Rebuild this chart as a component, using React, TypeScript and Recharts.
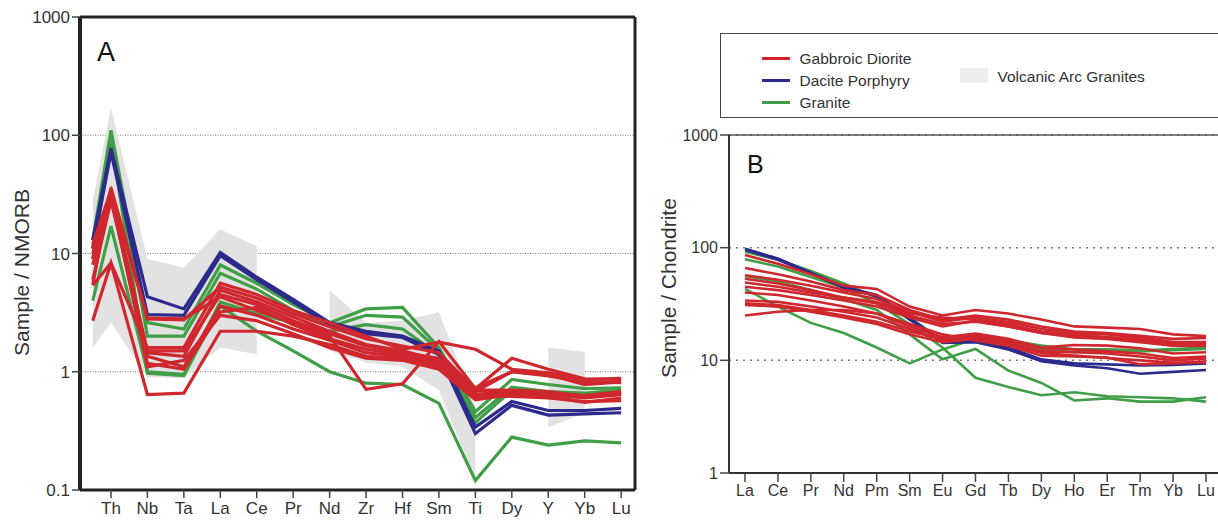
import React from "react";
import {
  Area,
  CartesianGrid,
  ComposedChart,
  Legend,
  Line,
  LineChart,
  ReferenceLine,
  XAxis,
  YAxis,
} from "recharts";

const FONT = "'Liberation Sans', Arial, Helvetica, sans-serif";
const INK = "#333333";
const RED = "#d0272e";
const BLUE = "#2c2a8c";
const GREEN = "#409e47";
const BAND = "#e2e2e2";

// ---- Panel A: Sample / NMORB ----
// first slot is the element cut off at the left edge of the source figure
const elementsA = ["", "Th", "Nb", "Ta", "La", "Ce", "Pr", "Nd", "Zr", "Hf", "Sm", "Ti", "Dy", "Y", "Yb", "Lu"];
const orderA = [0.5, 1, 2, 3, 4, 5, 6, 7, 8, 9, 10, 11, 12, 13, 14, 15];
const domainXA = [0.15, 15.38];
const ticksA = [0.1, 1, 10, 100, 1000];

// Volcanic Arc Granites field (null = no field at that element)
const volcArcLowA = [1.6, 2.6, 0.9, 0.88, 1.6, 1.4, null, 1.5, 1.2, 1.1, 0.7, 0.12, null, 0.34, 0.45, null];
const volcArcHighA = [28, 170, 9.0, 7.6, 16, 11.5, null, 4.9, 2.6, 2.7, 3.2, 0.5, null, 1.6, 1.47, null];

const graniteA = [
  [13, 110, 2.6, 2.3, 8.0, 5.6, 3.7, 2.6, 3.4, 3.5, 1.6, 0.46, 0.86, 0.78, 0.72, 0.73],
  [11, 100, 2.0, 2.0, 6.8, 5.0, 3.3, 2.4, 3.0, 2.9, 1.5, 0.41, 0.74, 0.68, 0.66, 0.7],
  [4.0, 17, 1.0, 0.95, 3.9, 3.1, 2.6, 2.2, 2.5, 2.3, 1.4, 0.37, 0.7, 0.64, 0.62, 0.66],
  [9, 95, 0.97, 0.93, 3.6, 2.2, 1.5, 1.0, 0.8, 0.78, 0.54, 0.12, 0.28, 0.24, 0.26, 0.25],
];
const daciteA = [
  [13, 78, 4.3, 3.4, 10.2, 6.3, 4.1, 2.6, 2.2, 2.0, 1.5, 0.34, 0.56, 0.47, 0.47, 0.49],
  [11, 72, 3.05, 3.0, 9.6, 6.0, 3.9, 2.5, 2.1, 1.95, 1.4, 0.3, 0.52, 0.43, 0.44, 0.45],
];
const gabbroA = [
  [5.4, 36, 2.85, 2.8, 4.3, 3.3, 2.6, 2.0, 0.71, 0.79, 1.8, 0.72, 1.3, 1.05, 0.87, 0.86],
  [2.7, 8.3, 0.64, 0.66, 2.2, 2.2, 2.0, 1.7, 1.35, 1.3, 1.1, 0.62, 0.62, 0.6, 0.56, 0.57],
  [5.4, 8.3, 1.6, 1.6, 5.6, 4.5, 3.3, 2.6, 2.0, 1.55, 1.78, 1.55, 1.05, 0.98, 0.86, 0.88],
  [10, 35, 1.45, 1.35, 4.9, 3.9, 2.9, 2.2, 1.7, 1.5, 1.25, 0.68, 1.0, 0.92, 0.82, 0.81],
  [9, 32, 1.35, 1.1, 3.6, 3.0, 2.3, 1.85, 1.45, 1.35, 1.15, 0.65, 0.66, 0.64, 0.6, 0.64],
  [8, 30, 1.18, 1.05, 3.2, 3.5, 2.5, 1.9, 1.55, 1.4, 1.2, 0.7, 0.7, 0.68, 0.62, 0.66],
  [11, 33, 1.1, 1.25, 3.0, 2.7, 2.1, 1.6, 1.3, 1.25, 1.05, 0.58, 0.64, 0.62, 0.55, 0.6],
  [6, 28, 1.5, 1.5, 4.5, 3.7, 2.7, 2.1, 1.65, 1.45, 1.3, 0.73, 1.0, 0.95, 0.78, 0.82],
  [12, 34, 2.8, 2.75, 5.2, 4.2, 3.1, 2.4, 1.9, 1.65, 1.45, 0.7, 0.68, 0.66, 0.63, 0.68],
];

// ---- Panel B: Sample / Chondrite (REE) ----
const elementsB = ["La", "Ce", "Pr", "Nd", "Pm", "Sm", "Eu", "Gd", "Tb", "Dy", "Ho", "Er", "Tm", "Yb", "Lu"];
const ticksB = [1, 10, 100, 1000];

const graniteB = [
  [92, 78, 62, 48, 36, 24, 15, 16.7, 15, 13.5, 12.5, 12.5, 12.3, 12.6, 13],
  [79, 68, 55, 44, 32, 21, 13, 7.0, 5.8, 4.9, 5.2, 4.8, 4.7, 4.6, 4.3],
  [56, 50, 42, 35, 28, 17, 10.2, 12.6, 8.1, 6.3, 4.4, 4.6, 4.3, 4.3, 4.7],
  [43, 30, 21.5, 17.5, 13, 9.4, 12.5, 15.5, 14, 12.5, 11.8, 12, 12, 12.3, 12.6],
];
const daciteB = [
  [98, 80, 60, 45, 38, 24, 14.3, 14.5, 12.5, 9.8, 9.0, 8.5, 7.6, 7.9, 8.2],
  [96, 78, 59, 44, 37, 23, 14.8, 15.2, 13, 10.2, 9.4, 9.2, 9.0, 9.1, 9.4],
];
const gabbroB = [
  [86, 72, 58, 46, 43, 30, 25, 28, 26, 23, 20, 19.5, 19, 17, 16.4],
  [66, 58, 50, 42, 38, 28, 23, 25, 23, 20, 18, 17.5, 16.5, 15.5, 15.8],
  [57, 52, 46, 40, 35, 27, 22, 24, 22, 19, 17.5, 17, 16, 14.5, 14.5],
  [53, 48, 42, 36, 33, 26, 24, 23, 21, 18, 17, 16, 15, 13.5, 13.4],
  [49, 45, 40, 36, 32, 25, 21, 22, 20, 17.5, 16, 15.5, 14.5, 13.5, 13.8],
  [45, 42, 38, 34, 30, 24, 20, 22.5, 20, 17.5, 16.5, 16, 15.5, 14, 14],
  [40, 38, 34, 30, 26, 20, 16, 17.3, 15.5, 13, 13.7, 13.5, 12.8, 11.5, 11.8],
  [34, 33, 30, 27, 24, 19, 15, 16.7, 15, 12.8, 12.5, 12, 11.5, 10.5, 10.8],
  [32, 31, 28, 25, 22, 18, 15.5, 16, 14.5, 12, 11.8, 11.5, 10.8, 10, 10.4],
  [31, 30, 27, 24, 21, 17, 14.5, 15.5, 14, 11.6, 11, 10.5, 10, 9.5, 9.6],
  [25, 27, 28, 28, 26, 21, 17, 15, 13.5, 11, 10.8, 10.6, 9.2, 9.4, 9.8],
];

const legendRows = [
  { name: "Gabbroic Diorite", color: RED },
  { name: "Dacite Porphyry", color: BLUE },
  { name: "Granite", color: GREEN },
];

const groups = (g: number[][], d: number[][], gb: number[][]) => [
  { prefix: "gr", color: GREEN, series: g },
  { prefix: "dp", color: BLUE, series: d },
  { prefix: "gd", color: RED, series: gb },
];

const groupsA = groups(graniteA, daciteA, gabbroA);
const groupsB = groups(graniteB, daciteB, gabbroB);

const rowsA = elementsA.map((el, i) => {
  const row: Record<string, any> = {
    x: orderA[i],
    el,
    vag: volcArcLowA[i] == null ? null : [volcArcLowA[i], volcArcHighA[i]],
  };
  groupsA.forEach((g) => g.series.forEach((s, j) => (row[`${g.prefix}${j}`] = s[i])));
  return row;
});

const rowsB = elementsB.map((el, i) => {
  const row: Record<string, any> = { el };
  groupsB.forEach((g) => g.series.forEach((s, j) => (row[`${g.prefix}${j}`] = s[i])));
  return row;
});

function AxisTitle(props: any) {
  const { viewBox, text, dx, dy } = props;
  const cx = viewBox.x + dx;
  const cy = viewBox.y + viewBox.height / 2 + dy;
  return (
    <text
      x={cx}
      y={cy}
      transform={`rotate(-90 ${cx} ${cy})`}
      textAnchor="middle"
      dominantBaseline="central"
      fill={INK}
      fontSize={21}
      fontFamily={FONT}
    >
      {text}
    </text>
  );
}

function LegendBox() {
  return (
    <div
      style={{
        position: "relative",
        width: 520,
        height: 85,
        boxSizing: "border-box",
        border: "1.5px solid #444",
        background: "#fff",
        fontFamily: FONT,
        fontSize: 15.5,
        color: INK,
      }}
    >
      {legendRows.map((row, i) => (
        <div
          key={row.name}
          style={{ position: "absolute", left: 40.5, top: 14.5 + i * 22, height: 20, display: "flex", alignItems: "center", whiteSpace: "nowrap" }}
        >
          <span style={{ display: "inline-block", width: 28, height: 3, background: row.color, marginRight: 10 }} />
          <span>{row.name}</span>
        </div>
      ))}
      <div style={{ position: "absolute", left: 238.5, top: 33.5, width: 28, height: 15, background: "#eeeeee" }} />
      <div style={{ position: "absolute", left: 276.5, top: 32.5, height: 20, display: "flex", alignItems: "center", whiteSpace: "nowrap" }}>
        Volcanic Arc Granites
      </div>
    </div>
  );
}

const renderLines = (gs: typeof groupsA, width: number) =>
  gs.flatMap((g) =>
    g.series.map((_, j) => (
      <Line
        key={`${g.prefix}${j}`}
        dataKey={`${g.prefix}${j}`}
        type="linear"
        stroke={g.color}
        strokeWidth={width}
        dot={false}
        activeDot={false}
        isAnimationActive={false}
      />
    ))
  );

const panelLetter = (letter: string, left: number, top: number, size: number) => (
  <div
    style={{
      position: "absolute",
      left,
      top,
      fontFamily: FONT,
      fontSize: size,
      lineHeight: 1,
      color: "#111",
    }}
  >
    {letter}
  </div>
);

export default function App() {
  const tickStyleA = { fill: INK, fontSize: 17, fontFamily: FONT };
  const tickStyleB = { fill: INK, fontSize: 16, fontFamily: FONT };

  return (
    <div
      style={{
        position: "absolute",
        left: 0,
        top: 0,
        width: 1218,
        height: 520,
        overflow: "hidden",
        background: "#fff",
      }}
    >
      <div style={{ position: "absolute", left: 0, top: 0 }}>
        <ComposedChart
          width={640}
          height={520}
          data={rowsA}
          margin={{ top: 17, right: 5, bottom: 0, left: 0 }}
        >
          <CartesianGrid vertical={false} stroke="#777" strokeDasharray="1 1.5" />
          <XAxis
            dataKey="x"
            type="number"
            domain={domainXA}
            allowDataOverflow
            ticks={orderA.slice(1)}
            interval={0}
            tickFormatter={(v: number) => elementsA[orderA.indexOf(v)]}
            height={30}
            tickSize={8}
            tickMargin={4}
            axisLine={{ stroke: "#222", strokeWidth: 3 }}
            tickLine={{ stroke: "#444", strokeWidth: 1.5 }}
            tick={tickStyleA}
          />
          <YAxis
            type="number"
            scale="log"
            domain={[0.1, 1000]}
            allowDataOverflow
            ticks={ticksA}
            interval={0}
            tickFormatter={(v: number) => String(v)}
            width={80}
            tickSize={8}
            tickMargin={2}
            axisLine={{ stroke: "#222", strokeWidth: 4 }}
            tickLine={{ stroke: "#444", strokeWidth: 1.5 }}
            tick={tickStyleA}
            label={<AxisTitle text="Sample / NMORB" dx={21} dy={19} />}
          />
          <Area
            dataKey="vag"
            type="linear"
            stroke="none"
            fill={BAND}
            fillOpacity={1}
            connectNulls={false}
            activeDot={false}
            isAnimationActive={false}
          />
          {renderLines(groupsA, 3.2)}
          {/* frame: top and right edges of the plot box */}
          <ReferenceLine y={1000} stroke="#222" strokeWidth={3} />
          <ReferenceLine x={domainXA[1]} stroke="#222" strokeWidth={3} />
        </ComposedChart>
      </div>
      {panelLetter("A", 97, 38.5, 27)}

      <div style={{ position: "absolute", left: 650, top: 0 }}>
        <LineChart
          width={572}
          height={520}
          data={rowsB}
          margin={{ top: 135, right: 0, bottom: 0, left: 0 }}
        >
          <CartesianGrid vertical={false} stroke="#777" strokeWidth={1.5} strokeDasharray="2 5" />
          <XAxis
            dataKey="el"
            interval={0}
            padding={{ left: 16, right: 16 }}
            height={47}
            tickSize={9}
            tickMargin={3}
            axisLine={{ stroke: "#333", strokeWidth: 2 }}
            tickLine={{ stroke: "#444", strokeWidth: 1.5 }}
            tick={tickStyleB}
          />
          <YAxis
            type="number"
            scale="log"
            domain={[1, 1000]}
            allowDataOverflow
            ticks={ticksB}
            interval={0}
            tickFormatter={(v: number) => String(v)}
            width={79}
            tickSize={9}
            tickMargin={2}
            axisLine={{ stroke: "#333", strokeWidth: 2 }}
            tickLine={{ stroke: "#444", strokeWidth: 1.5 }}
            tick={tickStyleB}
            label={<AxisTitle text="Sample / Chondrite" dx={18} dy={-16} />}
          />
          <Legend
            layout="vertical"
            align="center"
            verticalAlign="middle"
            wrapperStyle={{ left: 70, top: 33, width: 520, height: 85 }}
            content={() => <LegendBox />}
          />
          {renderLines(groupsB, 2.6)}
          <ReferenceLine y={1000} stroke="#555" strokeWidth={1.5} />
        </LineChart>
      </div>
      {panelLetter("B", 747, 151.7, 25)}
    </div>
  );
}
